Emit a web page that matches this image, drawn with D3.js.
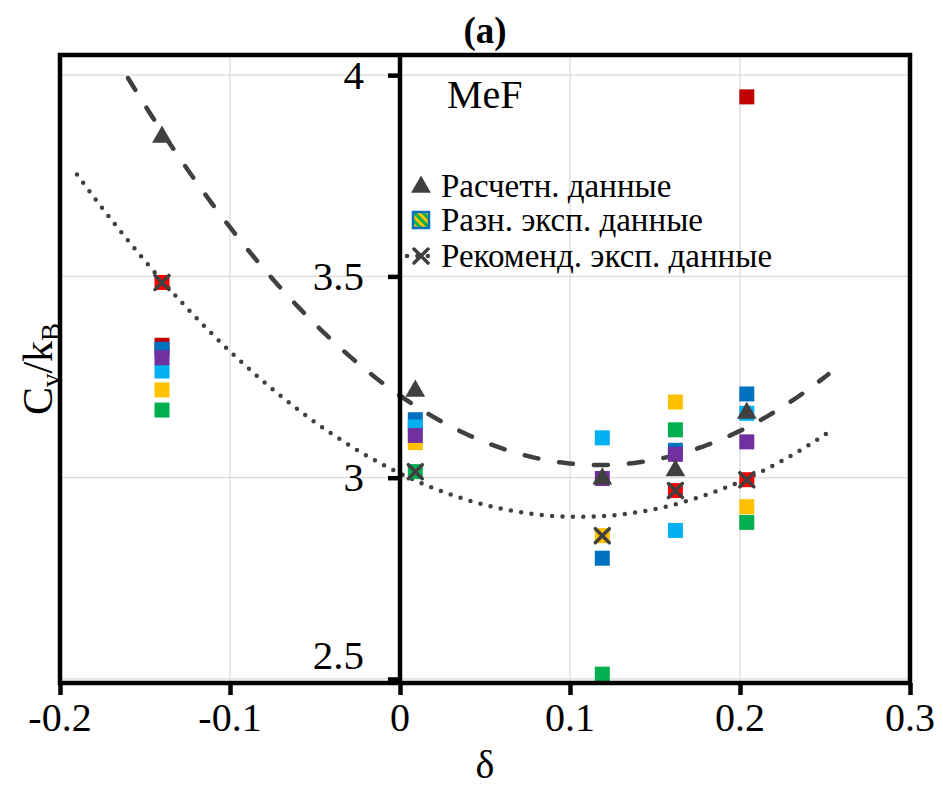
<!DOCTYPE html>
<html>
<head>
<meta charset="utf-8">
<script src="https://cdn.jsdelivr.net/npm/d3@7"></script>
</head>
<body style="margin:0">
<svg id="chart" width="943" height="791"></svg>
<script>
// data
const xTicks = [-0.2, -0.1, 0, 0.1, 0.2, 0.3];
const yTicks = [2.5, 3, 3.5, 4];

const calcX = [-0.14, 0.009, 0.119, 0.162, 0.204];
const calcY = [3.849, 3.218, 3.0, 3.02, 3.163];

const recX = [-0.14, 0.009, 0.119, 0.162, 0.204];
const recY = [3.485, 3.015, 2.856, 2.968, 2.995];

// experimental series, draw order matters (later on top)
const expDarkRed = [[-0.14, 3.329], [0.204, 3.946]];
const expRed = [[-0.14, 3.485], [0.162, 2.968], [0.204, 2.995]];
const expGreen = [[-0.14, 3.168], [0.009, 3.015], [0.119, 2.512], [0.162, 3.119], [0.204, 2.889]];
const expYellow = [[-0.14, 3.218], [0.009, 3.087], [0.119, 2.856], [0.162, 3.188], [0.204, 2.928]];
const expBlue = [[-0.14, 3.319], [0.009, 3.144], [0.119, 2.80], [0.162, 3.068], [0.204, 3.208]];
const expLightBlue = [[-0.14, 3.265], [0.009, 3.126], [0.119, 3.099], [0.162, 2.869], [0.204, 3.16]];
const expPurple = [[-0.14, 3.298], [0.009, 3.105], [0.119, 2.998], [0.162, 3.058], [0.204, 3.089]];

const expSeries = [
  { color: '#C00000', pts: expDarkRed },
  { color: '#FF0000', pts: expRed },
  { color: '#00B050', pts: expGreen },
  { color: '#FFC000', pts: expYellow },
  { color: '#0070C0', pts: expBlue },
  { color: '#00B0F0', pts: expLightBlue },
  { color: '#7030A0', pts: expPurple }
];

const calcTrendRange = [-0.16, 0.252];
const recTrendRange = [-0.19, 0.255];

const legendLabels = ['Расчетн. данные', 'Разн. эксп. данные', 'Рекоменд. эксп. данные'];

// layout
const pLeft = 60, pRight = 910, pTop = 55, pBottom = 683;
const grey = '#404040';
const fontName = 'Times New Roman';

const svg = d3.select('#chart');

const x = d3.scaleLinear().domain([-0.2, 0.3]).range([pLeft, pRight]);
const y = d3.scaleLinear().domain([2.49, 4.05]).range([pBottom, pTop]);

// gridlines
svg.append('g')
  .selectAll('line')
  .data(xTicks.filter(d => d !== 0))
  .enter().append('line')
  .attr('x1', d => x(d)).attr('x2', d => x(d))
  .attr('y1', pTop).attr('y2', pBottom)
  .attr('stroke', '#d9d9d9').attr('stroke-width', 1.2);

svg.append('g')
  .selectAll('line')
  .data(yTicks)
  .enter().append('line')
  .attr('x1', pLeft).attr('x2', pRight)
  .attr('y1', d => y(d)).attr('y2', d => y(d))
  .attr('stroke', '#d9d9d9').attr('stroke-width', 1.2);

// least squares quadratic (Excel-style polynomial trendline)
function quadFit(xs, ys) {
  const n = xs.length;
  let s = [0, 0, 0, 0, 0], t = [0, 0, 0];
  for (let i = 0; i < n; i++) {
    for (let k = 0; k < 5; k++) s[k] += Math.pow(xs[i], k);
    for (let k = 0; k < 3; k++) t[k] += ys[i] * Math.pow(xs[i], k);
  }
  const m = [[s[0], s[1], s[2], t[0]], [s[1], s[2], s[3], t[1]], [s[2], s[3], s[4], t[2]]];
  for (let c = 0; c < 3; c++) {
    for (let r = c + 1; r < 3; r++) {
      const f = m[r][c] / m[c][c];
      for (let k = c; k < 4; k++) m[r][k] -= f * m[c][k];
    }
  }
  const co = [0, 0, 0];
  for (let r = 2; r >= 0; r--) {
    let v = m[r][3];
    for (let k = r + 1; k < 3; k++) v -= m[r][k] * co[k];
    co[r] = v / m[r][r];
  }
  return v => co[0] + co[1] * v + co[2] * v * v;
}

const line = d3.line().x(d => x(d[0])).y(d => y(d[1]));

function trend(xs, ys, range) {
  const f = quadFit(xs, ys);
  return d3.range(range[0], range[1] + 1e-9, (range[1] - range[0]) / 200).map(v => [v, f(v)]);
}

svg.append('path')
  .attr('d', line(trend(calcX, calcY, calcTrendRange)))
  .attr('fill', 'none').attr('stroke', grey).attr('stroke-width', 4.5)
  .attr('stroke-linecap', 'round').attr('stroke-dasharray', '14,21');

svg.append('path')
  .attr('d', line(trend(recX, recY, recTrendRange)))
  .attr('fill', 'none').attr('stroke', grey).attr('stroke-width', 4.5)
  .attr('stroke-linecap', 'round').attr('stroke-dasharray', '0,10.4');

// experimental squares
const sq = 15;
expSeries.forEach(s => {
  svg.append('g')
    .selectAll('rect')
    .data(s.pts)
    .enter().append('rect')
    .attr('x', d => x(d[0]) - sq / 2)
    .attr('y', d => y(d[1]) - sq / 2)
    .attr('width', sq).attr('height', sq)
    .attr('fill', s.color);
});

// calculated triangles
const tri = d3.symbol().type(d3.symbolTriangle).size(170);
svg.append('g')
  .selectAll('path')
  .data(calcX.map((v, i) => [v, calcY[i]]))
  .enter().append('path')
  .attr('d', tri)
  .attr('transform', d => `translate(${x(d[0])},${y(d[1]) + 1})`)
  .attr('fill', grey);

// recommended crosses
const cross = 7;
const crossG = svg.append('g');
recX.forEach((v, i) => {
  const cx = x(v), cy = y(recY[i]);
  crossG.append('path')
    .attr('d', `M${cx - cross},${cy - cross}L${cx + cross},${cy + cross}M${cx - cross},${cy + cross}L${cx + cross},${cy - cross}`)
    .attr('stroke', grey).attr('stroke-width', 3.5).attr('stroke-linecap', 'round');
});

// frame
svg.append('rect')
  .attr('x', pLeft).attr('y', pTop)
  .attr('width', pRight - pLeft).attr('height', pBottom - pTop)
  .attr('fill', 'none').attr('stroke', '#000').attr('stroke-width', 4.5);

// y axis at x = 0
const yAxis = svg.append('g')
  .attr('transform', `translate(${x(0)},0)`)
  .call(d3.axisLeft(y).tickValues(yTicks).tickSize(12).tickFormat(d3.format('')));
yAxis.select('.domain').attr('stroke', '#000').attr('stroke-width', 4.5)
  .attr('d', `M0,${pTop}V${pBottom}`);
yAxis.selectAll('.tick line').attr('stroke', '#000').attr('stroke-width', 4.5);
yAxis.selectAll('.tick text').remove();

// x axis
const xAxis = svg.append('g')
  .attr('transform', `translate(0,${pBottom})`)
  .call(d3.axisBottom(x).tickValues(xTicks).tickSize(12).tickFormat(d3.format('')));
xAxis.select('.domain').remove();
xAxis.selectAll('.tick line').attr('stroke', '#000').attr('stroke-width', 4.5);
xAxis.selectAll('.tick text').remove();

// text
const tg = svg.append('g')
  .attr('font-family', fontName)
  .style('font-family', fontName);

function label(px, py, txt, size, anchor) {
  return tg.append('text')
    .attr('x', px).attr('y', py)
    .attr('text-anchor', anchor || 'start')
    .attr('font-size', size)
    .attr('font-family', fontName)
    .style('font-family', fontName)
    .text(txt);
}

yTicks.forEach(d => {
  label(x(0) - 36, y(d) + (d === 2.5 ? -10 : 13.5), String(d), 41, 'end');
});
xTicks.forEach(d => {
  label(x(d), pBottom + 48, String(d), 40, 'middle');
});

label((pLeft + pRight) / 2, 43, '(a)', 37, 'middle').attr('font-weight', 'bold');
label(447, 108, 'MeF', 40);
label((pLeft + pRight) / 2, 778, 'δ', 40, 'middle');

const yt = tg.append('text')
  .attr('transform', `translate(52,${(pTop + pBottom) / 2}) rotate(-90)`)
  .attr('text-anchor', 'middle').attr('font-size', 42)
  .attr('font-family', fontName)
  .style('font-family', fontName);
yt.append('tspan').text('C');
yt.append('tspan').attr('font-size', 27).attr('dy', 8).text('v');
yt.append('tspan').attr('dy', -8).text('/k');
yt.append('tspan').attr('font-size', 27).attr('dy', 8).text('B');

// legend
const defs = svg.append('defs');
const pat = defs.append('pattern')
  .attr('id', 'stripes').attr('patternUnits', 'userSpaceOnUse')
  .attr('width', 6).attr('height', 6)
  .attr('patternTransform', 'rotate(-45)');
pat.append('rect').attr('width', 6).attr('height', 6).attr('fill', '#00B050');
pat.append('rect').attr('width', 3).attr('height', 6).attr('fill', '#FFC000');

const lg = svg.append('g');
const rowY = [186, 220, 256];
lg.append('path').attr('d', tri).attr('transform', `translate(421,${rowY[0] + 1})`).attr('fill', grey);
lg.append('rect').attr('x', 413).attr('y', rowY[1] - 8).attr('width', 16).attr('height', 16)
  .attr('fill', 'url(#stripes)').attr('stroke', '#0070C0').attr('stroke-width', 2.5);
lg.append('line').attr('x1', 407).attr('x2', 435).attr('y1', rowY[2]).attr('y2', rowY[2])
  .attr('stroke', grey).attr('stroke-width', 4.5).attr('stroke-linecap', 'round').attr('stroke-dasharray', '0,10.4');
lg.append('path')
  .attr('d', `M${421 - cross},${rowY[2] - cross}L${421 + cross},${rowY[2] + cross}M${421 - cross},${rowY[2] + cross}L${421 + cross},${rowY[2] - cross}`)
  .attr('stroke', grey).attr('stroke-width', 3.5).attr('stroke-linecap', 'round');

legendLabels.forEach((d, i) => label(441, rowY[i] + 11, d, 33));
</script>
</body>
</html>
